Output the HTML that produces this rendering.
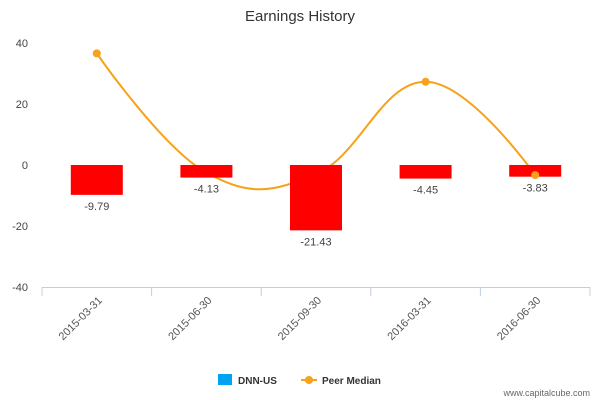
<!DOCTYPE html>
<html><head><meta charset="utf-8"><style>
body{margin:0;background:#fff;font-family:"Liberation Sans",sans-serif}
svg{display:block}
</style></head><body>
<svg width="600" height="400" id="c">
<text x="300" y="21" text-anchor="middle" font-size="15" fill="#333">Earnings History</text>
<g id="grid"></g><g id="line"></g><g id="bars"></g><g id="marks"></g><g id="xax"></g>
<g>
<rect x="218" y="374" width="14" height="11" fill="#00a2f2"/>
<text x="238" y="384" font-size="10" font-weight="bold" fill="#333">DNN-US</text>
<line x1="301" y1="380" x2="317" y2="380" stroke="#f7a21b" stroke-width="2"/>
<circle cx="309" cy="380" r="4" fill="#f7a21b"/>
<text x="322" y="384" font-size="10" font-weight="bold" fill="#333">Peer Median</text>
</g>
<text x="590" y="396" text-anchor="end" font-size="9" fill="#666">www.capitalcube.com</text>
</svg>
<script>
const categories=["2015-03-31","2015-06-30","2015-09-30","2016-03-31","2016-06-30"];
const dnnValues=[-9.79,-4.13,-21.43,-4.45,-3.83];
const peerValues=[36.6,-2.5,-3.0,27.3,-3.3];
const yTicks=[40,20,0,-20,-40];
const NS="http://www.w3.org/2000/svg";
const L=42,R=590,T=43,B=287,ymin=-40,ymax=40;
const bw=(R-L)/categories.length;
const y=v=>T+(ymax-v)/(ymax-ymin)*(B-T);
const x=i=>L+bw*(i+0.5);
function mk(tag,attrs,parent,txt){const e=document.createElementNS(NS,tag);for(const k in attrs)e.setAttribute(k,attrs[k]);if(txt!==undefined)e.textContent=txt;document.getElementById(parent).appendChild(e);return e;}
yTicks.forEach(t=>{
 const e=mk("text",{x:28,y:y(t)+4,"text-anchor":"end","font-size":11,fill:"#444"},"grid",String(t));
 
 
});
const ax=mk("line",{x1:L,y1:B+0.5,x2:R,y2:B+0.5,stroke:"#c0d0e0"},"xax");


for(let i=0;i<=categories.length;i++){
 const tk=mk("line",{x1:L+bw*i,y1:B,x2:L+bw*i,y2:B+9,stroke:"#c0d0e0"},"xax");
 
 
}
categories.forEach((c,i)=>{
 const cx=x(i)+6,cy=B+14;
 const e=mk("text",{x:cx,y:cy,"text-anchor":"end","font-size":11,fill:"#555",transform:`rotate(-45 ${cx} ${cy})`},"xax",c);
 
 
});
dnnValues.forEach((v,i)=>{
 const y0=y(0),y1=y(v);
 const r=mk("rect",{x:x(i)-26,y:Math.min(y0,y1),width:52,height:Math.abs(y1-y0),fill:"#ff0000"},"bars");
 
 
 const t=mk("text",{x:x(i),y:Math.max(y0,y1)+15,"text-anchor":"middle","font-size":11,fill:"#444"},"bars",v.toFixed(2));
 
 
});
// spline (Highcharts-like)
const pts=peerValues.map((v,i)=>[x(i),y(v)]);
let d=`M${pts[0][0]},${pts[0][1]}`;
const sm=1.5;
function ctrl(i){
 const p=pts[i],pr=pts[i-1],nx=pts[i+1];
 if(!pr||!nx)return [p,p];
 const lx=(sm*p[0]+pr[0])/(sm+1),ly=(sm*p[1]+pr[1])/(sm+1);
 const rx=(sm*p[0]+nx[0])/(sm+1),ry=(sm*p[1]+nx[1])/(sm+1);
 let corr=0;
 if(rx!==lx){const a=(ry-ly)/(rx-lx);const cy=a*(p[0]-lx)+ly;corr=p[1]-cy;}
 return [[lx,ly+corr],[rx,ry+corr]];
}
for(let i=1;i<pts.length;i++){
 const c1=ctrl(i-1)[1],c2=ctrl(i)[0];
 d+=` C${c1[0]},${c1[1]} ${c2[0]},${c2[1]} ${pts[i][0]},${pts[i][1]}`;
}
const pl=mk("path",{d:d,fill:"none",stroke:"#f7a21b","stroke-width":2},"line");


pts.forEach((p,i)=>{
 const m=mk("circle",{cx:p[0],cy:p[1],r:4,fill:"#f7a21b"},i===1||i===2?"line":"marks");
 
 
});
</script>
</body></html>
